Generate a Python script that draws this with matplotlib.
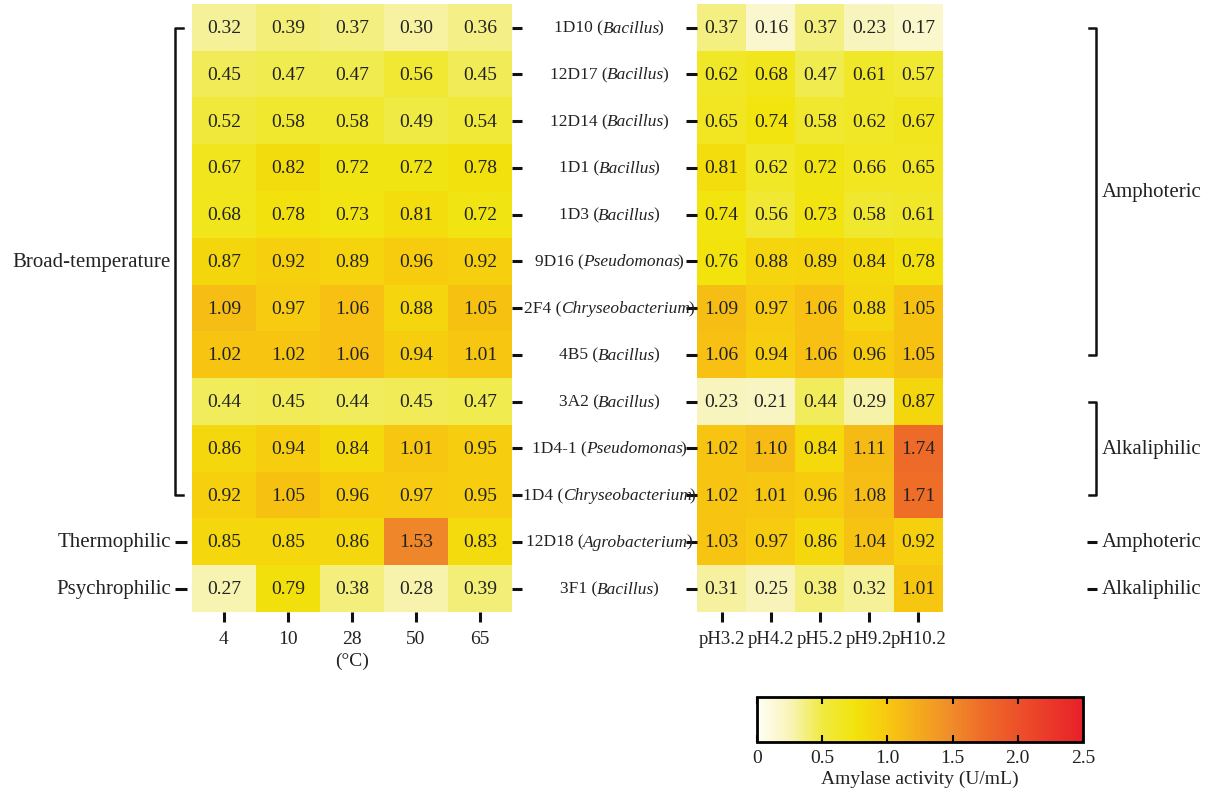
import numpy as np
import matplotlib
matplotlib.use("Agg")
import matplotlib.pyplot as plt
from matplotlib.colors import LinearSegmentedColormap, Normalize

plt.rcParams['font.family'] = ['Liberation Serif', 'DejaVu Serif']

strains = ["1D10", "12D17", "12D14", "1D1", "1D3", "9D16", "2F4", "4B5",
           "3A2", "1D4-1", "1D4", "12D18", "3F1"]
genus = ["Bacillus", "Bacillus", "Bacillus", "Bacillus", "Bacillus", "Pseudomonas",
         "Chryseobacterium", "Bacillus", "Bacillus", "Pseudomonas",
         "Chryseobacterium", "Agrobacterium", "Bacillus"]

temps = ["4", "10", "28", "50", "65"]
ph = ["pH3.2", "pH4.2", "pH5.2", "pH9.2", "pH10.2"]

temp_vals = np.array([
    [0.32, 0.39, 0.37, 0.30, 0.36],
    [0.45, 0.47, 0.47, 0.56, 0.45],
    [0.52, 0.58, 0.58, 0.49, 0.54],
    [0.67, 0.82, 0.72, 0.72, 0.78],
    [0.68, 0.78, 0.73, 0.81, 0.72],
    [0.87, 0.92, 0.89, 0.96, 0.92],
    [1.09, 0.97, 1.06, 0.88, 1.05],
    [1.02, 1.02, 1.06, 0.94, 1.01],
    [0.44, 0.45, 0.44, 0.45, 0.47],
    [0.86, 0.94, 0.84, 1.01, 0.95],
    [0.92, 1.05, 0.96, 0.97, 0.95],
    [0.85, 0.85, 0.86, 1.53, 0.83],
    [0.27, 0.79, 0.38, 0.28, 0.39],
])

ph_vals = np.array([
    [0.37, 0.16, 0.37, 0.23, 0.17],
    [0.62, 0.68, 0.47, 0.61, 0.57],
    [0.65, 0.74, 0.58, 0.62, 0.67],
    [0.81, 0.62, 0.72, 0.66, 0.65],
    [0.74, 0.56, 0.73, 0.58, 0.61],
    [0.76, 0.88, 0.89, 0.84, 0.78],
    [1.09, 0.97, 1.06, 0.88, 1.05],
    [1.06, 0.94, 1.06, 0.96, 1.05],
    [0.23, 0.21, 0.44, 0.29, 0.87],
    [1.02, 1.10, 0.84, 1.11, 1.74],
    [1.02, 1.01, 0.96, 1.08, 1.71],
    [1.03, 0.97, 0.86, 1.04, 0.92],
    [0.31, 0.25, 0.38, 0.32, 1.01],
])

# groups: (label, first row, last row)
temp_groups = [("Broad-temperature", 0, 10), ("Thermophilic", 11, 11), ("Psychrophilic", 12, 12)]
ph_groups = [("Amphoteric", 0, 7), ("Alkaliphilic", 8, 10), ("Amphoteric", 11, 11), ("Alkaliphilic", 12, 12)]

cmap = LinearSegmentedColormap.from_list("amy", [
    (0.0, "#fffef5"), (0.1, "#f8f4b8"), (0.2, "#f0ea40"), (0.3, "#f2e40c"),
    (0.4, "#f8c810"), (0.6, "#f08a2a"), (0.7, "#ee6a28"), (1.0, "#e8202a")])
norm = Normalize(0, 2.5)

FS = 14
TXT = '#222222'

fig = plt.figure(figsize=(12.11, 8.03), dpi=100)
ax1 = fig.add_axes([0.1585, 0.2366, 0.2642, 0.757])
ax2 = fig.add_axes([0.5756, 0.2366, 0.2031, 0.757])
cax = fig.add_axes([0.6251, 0.0747, 0.2692, 0.056])

for ax, vals, cols in [(ax1, temp_vals, temps), (ax2, ph_vals, ph)]:
    ax.imshow(vals, cmap=cmap, norm=norm, aspect='auto', interpolation='nearest')
    for i in range(vals.shape[0]):
        for j in range(vals.shape[1]):
            ax.text(j, i, f"{vals[i, j]:.2f}", ha='center', va='center',
                    fontsize=FS, color=TXT)
    for s in ax.spines.values():
        s.set_visible(False)
    ax.set_xticks(range(len(cols)))
    ax.set_yticks(range(len(strains)))
    ax.tick_params(axis='both', length=7, width=2.2, color='#111111', pad=6)

ax1.set_xticklabels(temps, fontsize=FS, color=TXT)
ax2.set_xticklabels(ph, fontsize=13.5, color=TXT)
ax1.set_xlabel("(°C)", fontsize=FS, color=TXT, labelpad=3)
ax1.yaxis.tick_right()
ax1.set_yticklabels([])
ax2.set_yticklabels([])
ax2.tick_params(axis='y', length=8)

# strain labels between the two heatmaps: roman name + italic genus, centred
renderer = fig.canvas.get_renderer()
xc = 609
SFS = 12.5
for i, (s, g) in enumerate(zip(strains, genus)):
    parts = [(s + " (", 'normal', 0.5), (g, 'italic', 2.0), (")", 'normal', 0)]
    texts = [fig.text(0, 0, p, fontsize=SFS, fontstyle=st, color=TXT, va='center')
             for p, st, _ in parts]
    widths = [t.get_window_extent(renderer).width - k for t, (_, _, k) in zip(texts, parts)]
    y_disp = ax1.transData.transform((0, i))[1]
    x = xc - sum(widths) / 2
    for t, w in zip(texts, widths):
        t.set_position((x / fig.bbox.width, y_disp / fig.bbox.height))
        x += w

# left group brackets
tr1 = ax1.get_yaxis_transform()
for name, a, b in temp_groups:
    if a == b:
        ax1.plot([-0.053, -0.016], [a, a], transform=tr1, color='#111111', lw=2.2,
                 clip_on=False, solid_capstyle='butt')
    else:
        ax1.plot([-0.028, -0.053, -0.053, -0.028], [a, a, b, b], transform=tr1,
                 color='#111111', lw=1.8, clip_on=False)
    ax1.text(-0.066, (a + b) / 2, name, transform=tr1, ha='right', va='center',
             fontsize=15, color=TXT)

# right group brackets
tr2 = ax2.get_yaxis_transform()
for name, a, b in ph_groups:
    if a == b:
        ax2.plot([1.585, 1.626], [a, a], transform=tr2, color='#111111', lw=2.2,
                 clip_on=False, solid_capstyle='butt')
    else:
        ax2.plot([1.593, 1.622, 1.622, 1.593], [a, a, b, b], transform=tr2,
                 color='#111111', lw=1.8, clip_on=False)
    ax2.text(1.646, (a + b) / 2, name, transform=tr2, ha='left', va='center',
             fontsize=15, color=TXT)

# colorbar
sm = plt.cm.ScalarMappable(norm=norm, cmap=cmap)
cb = fig.colorbar(sm, cax=cax, orientation='horizontal')
cb.set_ticks([0, 0.5, 1.0, 1.5, 2.0, 2.5])
cb.set_ticklabels(["0", "0.5", "1.0", "1.5", "2.0", "2.5"])
cax.tick_params(axis='x', direction='in', length=5, width=1.5, top=True,
                labelsize=FS, labelcolor=TXT, pad=5)
cb.outline.set_linewidth(2)
cb.set_label("Amylase activity (U/mL)", fontsize=FS, color=TXT, labelpad=3)

fig.savefig("out.png", dpi=100)
